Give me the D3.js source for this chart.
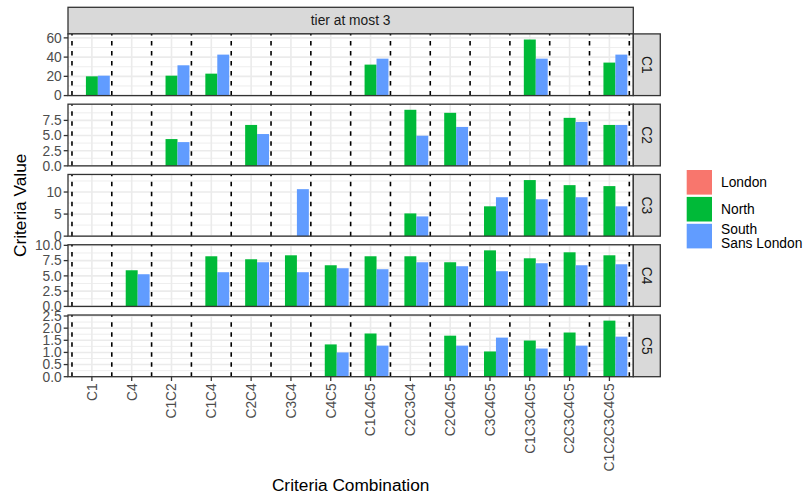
<!DOCTYPE html>
<html>
<head>
<meta charset="utf-8">
<script src="https://cdn.jsdelivr.net/npm/d3@7"></script>
<style>
  html, body { margin: 0; padding: 0; background: #fff; }
  svg { display: block; font-family: "Liberation Sans", Arial, Helvetica, sans-serif; }
</style>
</head>
<body>
<div id="chart"></div>
<script>
// Criteria combinations on the x axis (tier at most 3)
const categories = ["C1", "C4", "C1C2", "C1C4", "C2C4", "C3C4", "C4C5", "C1C4C5",
  "C2C3C4", "C2C4C5", "C3C4C5", "C1C3C4C5", "C2C3C4C5", "C1C2C3C4C5"];

// Facet rows
const criteria = ["C1", "C2", "C3", "C4", "C5"];

// Regions (fill groups); London has no values in this tier
const regions = ["London", "North", "South\nSans London"];
const regionColors = ["#F8766D", "#00BA38", "#619CFF"];

// Criteria values per row, aligned with categories (null = no bar)
const londonValues = categories.map(() => null);

const northC1 = [20.0, null, 20.7, 22.8, null, null, null, 32.2, null, null, null, 58.3, null, 34.3];
const southC1 = [20.7, null, 31.5, 42.6, null, null, null, 38.4, null, null, null, 38.4, null, 42.6];

const northC2 = [null, null, 4.42, null, 6.75, null, null, null, 9.25, 8.75, null, null, 7.92, 6.75];
const southC2 = [null, null, 3.92, null, 5.25, null, null, null, 4.97, 6.42, null, null, 7.25, 6.75];

const northC3 = [null, null, null, null, null, null, null, null, 5.15, null, 6.76, 12.71, 11.56, 11.34];
const southC3 = [null, null, null, null, null, 10.65, null, null, 4.47, null, 8.82, 8.36, 8.82, 6.76];

const northC4 = [null, 5.92, null, 8.21, 7.72, 8.37, 6.74, 8.21, 8.21, 7.23, 9.18, 7.88, 8.86, 8.37];
const southC4 = [null, 5.27, null, 5.60, 7.23, 5.60, 6.25, 6.09, 7.23, 6.58, 5.76, 7.07, 6.74, 6.90];

const northC5 = [null, null, null, null, null, null, 1.33, 1.78, null, 1.69, 1.04, 1.49, 1.82, 2.31];
const southC5 = [null, null, null, null, null, null, 1.00, 1.28, null, 1.28, 1.61, 1.16, 1.28, 1.65];

// y tick values per facet row
const ticksC1 = [0, 20, 40, 60];
const ticksC2 = [0, 2.5, 5, 7.5];
const ticksC3 = [0, 5, 10];
const ticksC4 = [0, 2.5, 5, 7.5, 10];
const ticksC5 = [0, 0.5, 1, 1.5, 2, 2.5];

const columnLabel = "tier at most 3";
const xTitle = "Criteria Combination";
const yTitle = "Criteria Value";

const rows = [
  { name: criteria[0], series: [londonValues, northC1, southC1], ticks: ticksC1 },
  { name: criteria[1], series: [londonValues, northC2, southC2], ticks: ticksC2 },
  { name: criteria[2], series: [londonValues, northC3, southC3], ticks: ticksC3 },
  { name: criteria[3], series: [londonValues, northC4, southC4], ticks: ticksC4 },
  { name: criteria[4], series: [londonValues, northC5, southC5], ticks: ticksC5 }
];

// ---- layout ----
const W = 804, H = 494;
const panelLeft = 68, panelRight = 633.3;
const stripTop = 7.3, stripH = 26.6;
const panelsTop = stripTop + stripH;
const panelsBottom = 376.7;
const gap = 8.6;
const panelH = (panelsBottom - panelsTop - gap * (rows.length - 1)) / rows.length;
const rightStripW = 27;
const fontSmall = 13.8, fontTitle = 17.3;
const border = "#333333";

const svg = d3.select("#chart").append("svg")
  .attr("width", W).attr("height", H);

// discrete x positions with ggplot-like 0.6 expansion
const x = d3.scaleLinear().domain([0.4, categories.length + 0.6]).range([panelLeft, panelRight]);
const dodge = 0.9 / regions.length;
const barW = x(dodge) - x(0);

// top strip
svg.append("rect")
  .attr("x", panelLeft).attr("y", stripTop)
  .attr("width", panelRight - panelLeft).attr("height", stripH)
  .attr("fill", "#D9D9D9").attr("stroke", border).attr("stroke-width", 1.3);
svg.append("text")
  .attr("x", (panelLeft + panelRight) / 2).attr("y", stripTop + stripH / 2)
  .attr("dy", "0.35em").attr("text-anchor", "middle")
  .attr("font-size", fontSmall).attr("fill", "#1A1A1A")
  .text(columnLabel);

rows.forEach((row, r) => {
  const top = panelsTop + r * (panelH + gap);
  const bottom = top + panelH;
  const maxVal = d3.max(row.series.flat().filter(v => v != null));
  const y = d3.scaleLinear().domain([0, maxVal * 1.1]).range([bottom, top]);
  const g = svg.append("g");

  // panel background
  g.append("rect").attr("x", panelLeft).attr("y", top)
    .attr("width", panelRight - panelLeft).attr("height", panelH).attr("fill", "#fff");

  // minor horizontal grid
  const step = row.ticks[1] - row.ticks[0];
  const minor = d3.range(step / 2, y.domain()[1], step);
  g.selectAll(".minor").data(minor).join("line")
    .attr("x1", panelLeft).attr("x2", panelRight)
    .attr("y1", d => y(d)).attr("y2", d => y(d))
    .attr("stroke", "#EBEBEB").attr("stroke-width", 0.85);

  // major horizontal grid
  g.selectAll(".major").data(row.ticks).join("line")
    .attr("x1", panelLeft).attr("x2", panelRight)
    .attr("y1", d => y(d)).attr("y2", d => y(d))
    .attr("stroke", "#EBEBEB").attr("stroke-width", 1.6);

  // vertical grid at categories
  g.selectAll(".vgrid").data(categories).join("line")
    .attr("x1", (d, i) => x(i + 1)).attr("x2", (d, i) => x(i + 1))
    .attr("y1", top).attr("y2", bottom)
    .attr("stroke", "#EBEBEB").attr("stroke-width", 1.6);

  // bars
  row.series.forEach((vals, s) => {
    g.selectAll(".bar" + s).data(vals.map((v, i) => ({ v, i })).filter(d => d.v != null))
      .join("rect")
      .attr("x", d => x(d.i + 1 - 0.45 + s * dodge))
      .attr("width", barW)
      .attr("y", d => y(d.v))
      .attr("height", d => y(0) - y(d.v))
      .attr("fill", regionColors[s]);
  });

  // dashed separators between categories
  const seps = d3.range(0, categories.length + 1).map(k => k + 0.5);
  g.selectAll(".sep").data(seps).join("line")
    .attr("x1", d => x(d)).attr("x2", d => x(d))
    .attr("y1", bottom).attr("y2", top)
    .attr("stroke", "#000").attr("stroke-width", 1.6)
    .attr("stroke-dasharray", "4.5,5.5");

  // panel border
  g.append("rect").attr("x", panelLeft).attr("y", top)
    .attr("width", panelRight - panelLeft).attr("height", panelH)
    .attr("fill", "none").attr("stroke", border).attr("stroke-width", 1.3);

  // y axis ticks and labels
  const decimals = row.ticks.some(t => !Number.isInteger(t));
  const fmt = decimals ? d3.format(".1f") : d3.format("d");
  g.selectAll(".ytick").data(row.ticks).join("line")
    .attr("x1", panelLeft - 4.3).attr("x2", panelLeft)
    .attr("y1", d => y(d)).attr("y2", d => y(d))
    .attr("stroke", border).attr("stroke-width", 1.3);
  g.selectAll(".ylab").data(row.ticks).join("text")
    .attr("x", panelLeft - 6.2).attr("y", d => y(d))
    .attr("dy", "0.35em").attr("text-anchor", "end")
    .attr("font-size", fontSmall).attr("fill", "#4D4D4D")
    .text(d => fmt(d));

  // right strip
  g.append("rect")
    .attr("x", panelRight).attr("y", top)
    .attr("width", rightStripW).attr("height", panelH)
    .attr("fill", "#D9D9D9").attr("stroke", border).attr("stroke-width", 1.3);
  g.append("text")
    .attr("transform", `translate(${panelRight + rightStripW / 2},${top + panelH / 2}) rotate(90)`)
    .attr("dy", "0.35em").attr("text-anchor", "middle")
    .attr("font-size", fontSmall).attr("fill", "#1A1A1A")
    .text(row.name);

  // x axis on the last row
  if (r === rows.length - 1) {
    g.selectAll(".xtick").data(categories).join("line")
      .attr("x1", (d, i) => x(i + 1)).attr("x2", (d, i) => x(i + 1))
      .attr("y1", bottom).attr("y2", bottom + 4.3)
      .attr("stroke", border).attr("stroke-width", 1.3);
    g.selectAll(".xlab").data(categories).join("text")
      .attr("transform", (d, i) => `translate(${x(i + 1)},${bottom + 6.6}) rotate(-90)`)
      .attr("dy", "0.35em").attr("text-anchor", "end")
      .attr("font-size", fontSmall).attr("fill", "#4D4D4D")
      .text(d => d);
  }
});

// axis titles
svg.append("text")
  .attr("x", (panelLeft + panelRight) / 2).attr("y", 485)
  .attr("dy", "0.35em").attr("text-anchor", "middle")
  .attr("font-size", fontTitle).attr("fill", "#000")
  .text(xTitle);
svg.append("text")
  .attr("transform", `translate(20,${(panelsTop + panelsBottom) / 2}) rotate(-90)`)
  .attr("dy", "0.35em").attr("text-anchor", "middle")
  .attr("font-size", fontTitle).attr("fill", "#000")
  .text(yTitle);

// legend
const legendX = 686.7, legendY = 170, keyW = 25.3, keyH = 24.6, keyStep = 26.9;
const legend = svg.append("g");
regions.forEach((name, k) => {
  const ky = legendY + k * keyStep;
  legend.append("rect")
    .attr("x", legendX).attr("y", ky).attr("width", keyW).attr("height", keyH)
    .attr("fill", regionColors[k]);
  const lines = name.split("\n");
  const lh = 14.2;
  const t = legend.append("text")
    .attr("font-size", fontSmall).attr("fill", "#000");
  lines.forEach((ln, j) => {
    t.append("tspan")
      .attr("x", legendX + keyW + 9)
      .attr("y", ky + keyH / 2 + (j - (lines.length - 1) / 2) * lh)
      .attr("dy", "0.35em")
      .text(ln);
  });
});
</script>
</body>
</html>
